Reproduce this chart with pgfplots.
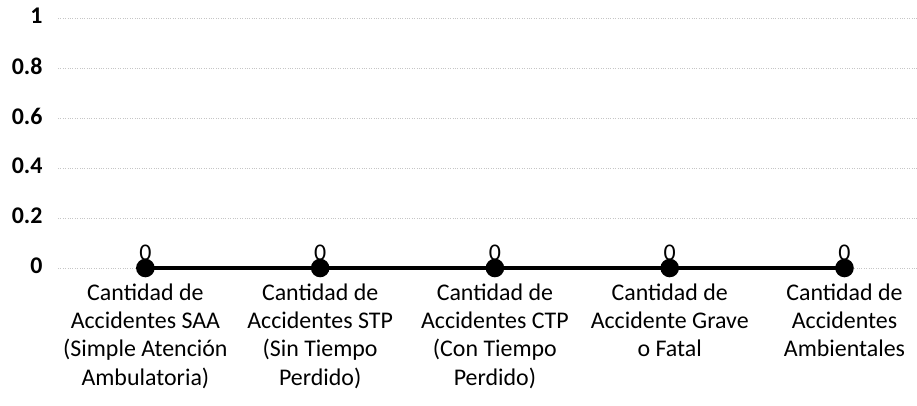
\documentclass[border=0pt]{standalone}
\usepackage{fontspec}
\setmainfont{Carlito}
\usepackage{pgfplots}
\pgfplotsset{compat=1.18}
\begin{document}
\begin{tikzpicture}
\begin{axis}[
  name=ax, at={(0,0)}, anchor=south west,
  scale only axis, width=859bp, height=250bp,
  xmin=-0.5, xmax=4.415, ymin=0, ymax=1,
  ytick={0,0.2,0.4,0.6,0.8,1},
  yticklabel style={font=\fontsize{24}{28}\selectfont\bfseries, xshift=-12bp, yshift=2bp},
  /pgf/number format/assume math mode=true,
  xtick={0,1,2,3,4},
  xticklabels={
    {Cantidad de\\Accidentes SAA\\(Simple Atención\\Ambulatoria)},
    {Cantidad de\\Accidentes STP\\(Sin Tiempo\\Perdido)},
    {Cantidad de\\Accidentes CTP\\(Con Tiempo\\Perdido)},
    {Cantidad de\\Accidente Grave\\o Fatal},
    {Cantidad de\\Accidentes\\Ambientales}},
  xticklabel style={align=center, font=\fontsize{24}{28.5}\selectfont, anchor=north, yshift=-12bp},
  major tick length=0pt,
  axis line style={draw=none},
  ymajorgrids,
  grid style={gray!45, dotted, line width=0.9bp},
  clip=false,
]
\addplot[black, line width=4.5bp, mark=*, mark size=7bp,
  nodes near coords, point meta=explicit symbolic,
  every node near coord/.style={anchor=south, inner sep=0pt, yshift=5bp, font=\fontsize{24}{28}\selectfont, black}]
  coordinates {(0,0) [0] (1,0) [0] (2,0) [0] (3,0) [0] (4,0) [0]};
\end{axis}
\pgfresetboundingbox
\useasboundingbox (-58bp,-138bp) rectangle (859bp,268bp);
\end{tikzpicture}
\end{document}
